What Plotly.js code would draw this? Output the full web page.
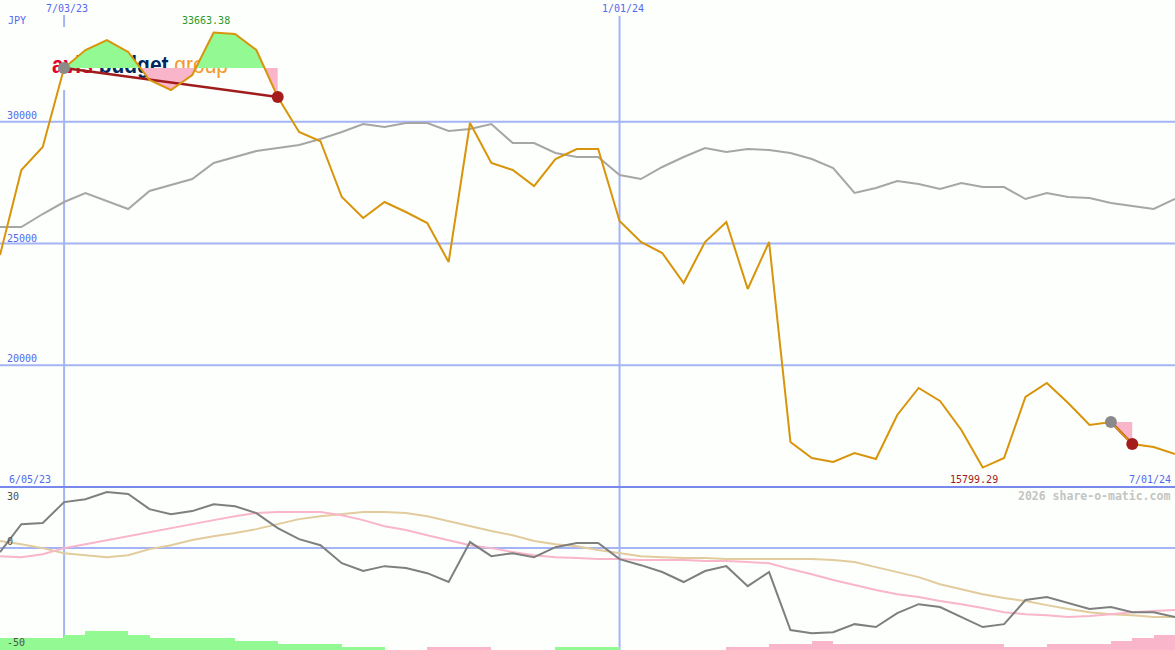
<!DOCTYPE html>
<html>
<head>
<meta charset="utf-8">
<script src="https://cdn.plot.ly/plotly-3.0.1.min.js"></script>
<style>
html,body{margin:0;padding:0;background:#fcfffc;}
#chart{width:1175px;height:650px;}
</style>
</head>
<body>
<div id="chart"></div>
<script>
// ---------- data ----------
const dates = ['2023-06-12','2023-06-19','2023-06-26','2023-07-03','2023-07-10','2023-07-17','2023-07-24','2023-07-31',
'2023-08-07','2023-08-14','2023-08-21','2023-08-28','2023-09-04','2023-09-11','2023-09-18','2023-09-25',
'2023-10-02','2023-10-09','2023-10-16','2023-10-23','2023-10-30','2023-11-06','2023-11-13','2023-11-20',
'2023-11-27','2023-12-04','2023-12-11','2023-12-18','2023-12-25','2024-01-01','2024-01-08','2024-01-15',
'2024-01-22','2024-01-29','2024-02-05','2024-02-12','2024-02-19','2024-02-26','2024-03-04','2024-03-11',
'2024-03-18','2024-03-25','2024-04-01','2024-04-08','2024-04-15','2024-04-22','2024-04-29','2024-05-06',
'2024-05-13','2024-05-20','2024-05-27','2024-06-03','2024-06-10','2024-06-17','2024-06-24','2024-07-01'];

const price = [24528,28018,28963,32207,32947,33357,32865,31715,31304,31920,33663.38,33604,32947,31016,29579,29200,
26910,26047,26704,26294,25842,24240,29949,28306,28018,27361,28470,28881,28881,25924,25062,24610,
23378,25062,25883,23131,25062,16848,16191,16027,16396,16150,17957,19066,18532,17341,15799.29,16191,
18696,19271,18450,17546,17670,16766,16643,16355];

const indexLine = [25678,25678,26211,26704,27074,26745,26417,27156,27402,27649,28306,28552,28799,28922,29045,29292,
29579,29908,29784,29949,29949,29620,29702,29908,29127,29127,28717,28552,28552,27813,27649,28142,
28552,28922,28758,28881,28840,28717,28470,28101,27074,27279,27567,27444,27238,27485,27320,27320,
26827,27074,26910,26868,26663,26540,26417,26827];

const osc = [-2.0,12.2,12.8,23.5,25.0,28.6,27.6,19.9,17.3,18.9,22.4,21.4,17.9,10.2,4.6,1.5,
-7.7,-11.7,-9.2,-10.2,-12.8,-17.3,3.1,-4.1,-2.6,-4.6,0.5,2.6,2.6,-5.6,-8.7,-12.2,
-17.3,-11.7,-9.2,-19.4,-12.2,-41.8,-43.4,-42.9,-38.8,-40.3,-33.2,-28.6,-30.1,-35.2,-40.3,-38.8,
-26.5,-25.0,-28.1,-31.1,-30.1,-32.7,-32.7,-35.2];

const maFast = [-4.1,-4.6,-3.1,0,2.0,4.1,6.1,8.2,10.2,12.2,14.3,16.3,17.9,18.4,18.4,18.4,
16.8,14.3,11.2,9.2,6.6,4.1,1.5,0,-2.0,-3.6,-4.6,-5.1,-5.6,-5.6,-6.1,-6.1,
-6.1,-6.6,-6.6,-7.1,-7.7,-10.7,-13.3,-16.3,-18.9,-21.4,-23.5,-25.0,-27.0,-28.6,-30.6,-32.7,
-33.7,-34.2,-35.2,-34.7,-33.7,-32.7,-32.1,-31.6];

const maSlow = [3.6,2.0,0,-2.6,-3.6,-4.6,-3.6,-0.5,1.5,4.1,6.1,7.7,9.7,12.2,14.8,16.3,
17.3,18.4,18.4,17.9,16.3,13.8,11.2,8.7,6.6,3.6,2.0,1.0,-1.0,-2.6,-4.1,-4.6,
-5.1,-5.1,-5.6,-5.6,-5.6,-5.6,-5.6,-6.1,-7.1,-9.7,-12.2,-14.8,-18.4,-20.9,-23.5,-25.5,
-27.0,-29.1,-31.1,-32.7,-33.7,-34.2,-35.2,-35.2];

const signal = [4,4,4,5,6,6,5,4,4,4,4,3,3,2,2,2,1,1,0,0,-1,-1,-1,0,0,0,1,1,1,0,0,0,0,0,
-1,-1,-2,-2,-3,-2,-2,-2,-2,-2,-2,-2,-2,-1,-1,-2,-2,-2,-3,-4,-5,-5];

const priceTicks = [30000,25000,20000];
const oscTicks = [30,0,-50];
const markDates = ['2023-07-03','2024-01-01'];
const markLabels = ['7/03/23','1/01/24'];
const rangeLabels = ['6/05/23','7/01/24'];
const trends = [[3,13],[52,53]];
const currency = 'JPY';
const watermark = '2026 share-o-matic.com';

// ---------- helpers ----------
const W = 1175, H = 650, SPLIT = 487;
const px = x => x / W;
const py = y => 1 - y / H;
const MONO = 'DejaVu Sans Mono, Liberation Mono, monospace';
const BLUE_TXT = '#5468ee';
const GRID = '#a4b4f4';
const DAY = 86400000;

function band(a, b, base) {
  const xs = [], up = [], dn = [], bs = [];
  function push(t, v) { xs.push(t); up.push(Math.max(v, base)); dn.push(Math.min(v, base)); bs.push(base); }
  for (let i = a; i <= b; i++) {
    const t = Date.parse(dates[i]);
    if (i > a) {
      const t0 = Date.parse(dates[i - 1]), v0 = price[i - 1], v1 = price[i];
      if ((v0 - base) * (v1 - base) < 0) {
        const f = (base - v0) / (v1 - v0);
        push(t0 + f * (t - t0), base);
      }
    }
    push(t, price[i]);
  }
  return { xs, up, dn, bs };
}

const traces = [];
// main comparison line
traces.push({ x: dates, y: indexLine, type: 'scatter', mode: 'lines', line: { color: '#a6a6a6', width: 2 }, hoverinfo: 'skip' });

// green / pink fills around each trend start level
trends.forEach(([a, b]) => {
  const base = price[a];
  const bd = band(a, b, base);
  traces.push({ x: bd.xs, y: bd.bs, mode: 'lines', line: { width: 0, color: 'rgba(0,0,0,0)' }, hoverinfo: 'skip' });
  traces.push({ x: bd.xs, y: bd.up, mode: 'lines', fill: 'tonexty', fillcolor: '#93f993', line: { width: 0, color: 'rgba(0,0,0,0)' }, hoverinfo: 'skip' });
  traces.push({ x: bd.xs, y: bd.bs, mode: 'lines', line: { width: 0, color: 'rgba(0,0,0,0)' }, hoverinfo: 'skip' });
  traces.push({ x: bd.xs, y: bd.dn, mode: 'lines', fill: 'tonexty', fillcolor: '#f9b5ca', line: { width: 0, color: 'rgba(0,0,0,0)' }, hoverinfo: 'skip' });
});

// trend lines (under the price line)
trends.forEach(([a, b]) => {
  traces.push({ x: [dates[a], dates[b]], y: [price[a], price[b]], mode: 'lines', line: { color: '#a01c1c', width: 2.5 }, hoverinfo: 'skip' });
});

// price line
traces.push({ x: dates, y: price, type: 'scatter', mode: 'lines', line: { color: '#d8940a', width: 2 }, hoverinfo: 'skip' });

// trend dots
trends.forEach(([a, b]) => {
  traces.push({ x: [dates[a]], y: [price[a]], mode: 'markers', marker: { color: '#8a8a8a', size: 12 }, hoverinfo: 'skip' });
  traces.push({ x: [dates[b]], y: [price[b]], mode: 'markers', marker: { color: '#a51c1c', size: 12 }, hoverinfo: 'skip' });
});

// lower panel bars
traces.push({
  x: dates, y: signal.map(Math.abs), type: 'bar', yaxis: 'y3',
  offset: 0, width: 7 * DAY,
  marker: { color: signal.map(v => v >= 0 ? '#93f993' : '#f9b5ca'), line: { width: 0 } },
  hoverinfo: 'skip'
});
traces.push({ x: dates, y: maSlow, yaxis: 'y2', mode: 'lines', line: { color: '#e2cb9c', width: 2 }, hoverinfo: 'skip' });
traces.push({ x: dates, y: maFast, yaxis: 'y2', mode: 'lines', line: { color: '#f9b5ca', width: 2 }, hoverinfo: 'skip' });
traces.push({ x: dates, y: osc, yaxis: 'y2', mode: 'lines', line: { color: '#7f7f7f', width: 2 }, hoverinfo: 'skip' });

// ---------- shapes ----------
const shapes = [];
priceTicks.forEach(v => shapes.push({ type: 'line', xref: 'paper', x0: 0, x1: 1, yref: 'y', y0: v, y1: v, line: { color: GRID, width: 2 }, layer: 'below' }));
shapes.push({ type: 'line', xref: 'paper', x0: 0, x1: 1, yref: 'y2', y0: 0, y1: 0, line: { color: GRID, width: 2 }, layer: 'below' });
// first marker line interrupted by the logo block
shapes.push({ type: 'line', xref: 'x', x0: markDates[0], x1: markDates[0], yref: 'paper', y0: py(15), y1: py(27), line: { color: GRID, width: 2 }, layer: 'below' });
shapes.push({ type: 'line', xref: 'x', x0: markDates[0], x1: markDates[0], yref: 'paper', y0: 0, y1: py(90), line: { color: GRID, width: 2 }, layer: 'below' });
shapes.push({ type: 'line', xref: 'x', x0: markDates[1], x1: markDates[1], yref: 'paper', y0: 0, y1: py(16), line: { color: GRID, width: 2 }, layer: 'below' });
shapes.push({ type: 'line', xref: 'paper', x0: 0, x1: 1, yref: 'paper', y0: py(SPLIT), y1: py(SPLIT), line: { color: '#7888ec', width: 2 }, layer: 'above' });

// ---------- annotations ----------
const ann = [];
function txt(text, x, y, opts) {
  ann.push(Object.assign({ text, x, y, xref: 'paper', yref: 'paper', showarrow: false, xanchor: 'left', yanchor: 'middle',
    font: { family: MONO, size: 10, color: BLUE_TXT } }, opts || {}));
}
txt(currency, px(6), py(20));
priceTicks.forEach((v, k) => txt(String(v), px(5), py([116, 238, 358][k])));
markDates.forEach((d, k) => txt(markLabels[k], d, py(8), { xref: 'x', xanchor: 'center', xshift: 3 }));
txt(rangeLabels[0], px(7), py(479));
txt(rangeLabels[1], px(1173), py(479), { xanchor: 'right' });
oscTicks.forEach((v, k) => txt(String(v), px(5), py([496, 541, 642][k]), { font: { family: MONO, size: 10, color: '#505050' } }));
txt(watermark, px(1172), py(496), { xanchor: 'right', font: { family: MONO, size: 11.5, color: '#c4c4c4', weight: 'bold' } });

const maxV = Math.max(...price), minV = Math.min(...price);
ann.push({ text: maxV.toFixed(2), x: dates[price.indexOf(maxV)], xref: 'x', y: py(20), yref: 'paper', showarrow: false,
  xanchor: 'center', yanchor: 'middle', xshift: -8, font: { family: MONO, size: 10, color: '#2a9a2a' } });
ann.push({ text: minV.toFixed(2), x: dates[price.indexOf(minV)], xref: 'x', y: py(479), yref: 'paper', showarrow: false,
  xanchor: 'center', yanchor: 'middle', xshift: -9, font: { family: MONO, size: 10, color: '#a01c1c' } });

// ---------- logo ----------
const logoSvg = '<svg xmlns="http://www.w3.org/2000/svg" width="180" height="34">' +
  '<text x="0" y="25" font-family="Liberation Sans, Arial, sans-serif" font-size="24" textLength="176" lengthAdjust="spacingAndGlyphs">' +
  '<tspan fill="#e4002b" font-weight="bold">avis</tspan> <tspan fill="#00285f" font-weight="bold">budget</tspan> ' +
  '<tspan fill="#f29a2e">group</tspan></text></svg>';
const images = [{
  source: 'data:image/svg+xml;charset=utf-8,' + encodeURIComponent(logoSvg),
  xref: 'paper', yref: 'paper', x: px(52), y: py(48), sizex: 180 / W, sizey: 34 / H,
  xanchor: 'left', yanchor: 'top', sizing: 'stretch', layer: 'below'
}];

const splitFrac = (H - SPLIT) / H;
const layout = {
  width: W, height: H,
  margin: { l: 0, r: 0, t: 0, b: 0, pad: 0 },
  paper_bgcolor: '#fcfffc', plot_bgcolor: 'rgba(0,0,0,0)',
  showlegend: false, bargap: 0,
  xaxis: { type: 'date', range: [dates[0], dates[dates.length - 1]], visible: false, fixedrange: true },
  yaxis: { domain: [splitFrac, 1], range: [15000, 35000], visible: false, fixedrange: true },
  yaxis2: { domain: [0, splitFrac], range: [-52, 31.2], visible: false, fixedrange: true },
  yaxis3: { domain: [0, splitFrac], overlaying: 'y2', range: [0, (H - SPLIT) / 3.1], visible: false, fixedrange: true },
  shapes, annotations: ann, images
};

Plotly.newPlot('chart', traces, layout, { staticPlot: true, displayModeBar: false });
</script>
</body>
</html>
